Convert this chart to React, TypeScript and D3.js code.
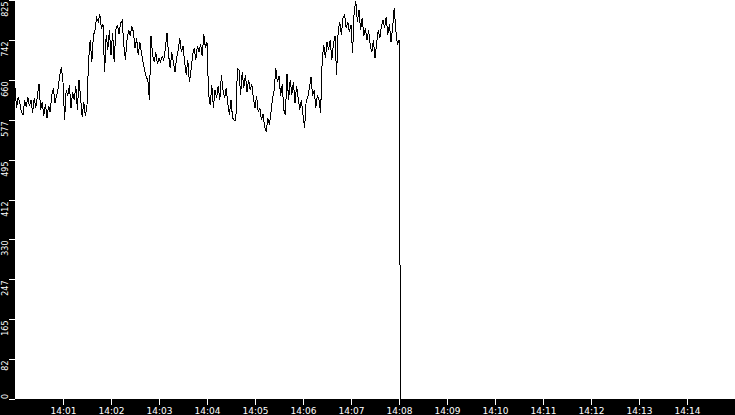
import React, { useEffect, useRef } from 'react';
import * as d3 from 'd3';

// samples taken every 2 seconds starting at 14:00:00
const startTime = new Date(2000, 0, 1, 14, 0, 0);
const endTime = new Date(2000, 0, 1, 14, 15, 0);
const sampleSeconds = 2;

const values: number[] = [
  643, 602, 624, 612, 593, 587, 618, 604, 624, 606,
  618, 591, 622, 602, 627, 651, 598, 614, 585, 610,
  581, 606, 593, 629, 643, 612, 627, 643, 670, 686,
  655, 577, 639, 627, 649, 602, 635, 618, 647, 598,
  660, 622, 583, 614, 585, 608, 701, 742, 697, 751,
  763, 788, 780, 796, 767, 775, 676, 753, 722, 763,
  711, 757, 697, 763, 773, 755, 777, 782, 732, 701,
  742, 763, 751, 771, 759, 726, 746, 711, 738, 717,
  697, 680, 666, 660, 618, 751, 711, 697, 717, 693,
  705, 697, 709, 701, 726, 757, 711, 684, 717, 697,
  676, 705, 722, 746, 717, 730, 697, 670, 701, 655,
  680, 711, 726, 701, 730, 717, 734, 709, 755, 726,
  738, 629, 608, 649, 602, 639, 622, 647, 618, 670,
  639, 622, 643, 610, 587, 618, 581, 577, 575, 684,
  680, 629, 676, 643, 670, 635, 660, 639, 651, 622,
  602, 627, 593, 602, 577, 589, 564, 552, 581, 567,
  593, 622, 639, 684, 655, 668, 627, 651, 598, 587,
  672, 618, 660, 629, 655, 612, 647, 622, 598, 618,
  587, 560, 618, 624, 643, 666, 627, 639, 602, 629,
  618, 591, 701, 732, 705, 738, 722, 742, 701, 734,
  751, 670, 763, 780, 753, 788, 794, 767, 780, 759,
  773, 715, 804, 822, 780, 804, 763, 788, 751, 767,
  742, 763, 732, 717, 742, 705, 734, 763, 746, 771,
  784, 767, 790, 753, 775, 738, 767, 808, 763, 732,
  742, 0,
];

const yMax = 825;
const yTicks = [0, 82.5, 165, 247.5, 330, 412.5, 495, 577.5, 660, 742.5, 825];
const yTickLabels = ['0', '82', '165', '247', '330', '412', '495', '577', '660', '742', '825'];
const xTickMinutes = [1, 2, 3, 4, 5, 6, 7, 8, 9, 10, 11, 12, 13, 14];

const App: React.FC = () => {
  const svgRef = useRef<SVGSVGElement>(null);

  useEffect(() => {
    if (!svgRef.current) return;

    const width = 735;
    const height = 415;
    const left = 15;
    const bottom = 399;

    const svg = d3.select(svgRef.current);
    svg.selectAll('*').remove();

    const x = d3.scaleTime().domain([startTime, endTime]).range([left, width]);
    const y = d3.scaleLinear().domain([0, yMax]).range([bottom, 0]);

    // plot background + black axis bands
    svg.append('rect').attr('width', width).attr('height', height).attr('fill', 'white');
    svg.append('rect').attr('x', 0).attr('y', 0).attr('width', left).attr('height', height).attr('fill', 'black');
    svg.append('rect').attr('x', 0).attr('y', bottom).attr('width', width).attr('height', height - bottom).attr('fill', 'black');

    const points = values.map((v, i) => ({
      t: new Date(startTime.getTime() + i * sampleSeconds * 1000),
      v,
    }));

    const line = d3.line<{ t: Date; v: number }>()
      .x(d => x(d.t))
      .y(d => y(d.v));

    svg.append('path')
      .datum(points)
      .attr('d', line)
      .attr('fill', 'none')
      .attr('stroke', 'black')
      .attr('stroke-width', 1)
      .attr('shape-rendering', 'crispEdges');

    // y axis
    const yg = svg.append('g');
    yTicks.forEach((t, i) => {
      const ty = Math.round(y(t)) + 0.5;
      yg.append('line')
        .attr('x1', 9).attr('x2', left)
        .attr('y1', ty).attr('y2', ty)
        .attr('stroke', 'white')
        .attr('shape-rendering', 'crispEdges');
      const isZero = t === 0;
      yg.append('text')
        .attr('transform', `translate(7.5,${isZero ? bottom : ty + 1}) rotate(-90)`)
        .attr('text-anchor', isZero ? 'start' : 'end')
        .attr('fill', 'white')
        .attr('font-family', 'DejaVu Sans')
        .attr('font-size', 8)
        .text(yTickLabels[i]);
    });

    // x axis
    const xg = svg.append('g');
    xTickMinutes.forEach(m => {
      const t = new Date(startTime.getTime() + m * 60000);
      const tx = Math.round(x(t)) + 0.5;
      xg.append('line')
        .attr('x1', tx).attr('x2', tx)
        .attr('y1', bottom).attr('y2', bottom + 6)
        .attr('stroke', 'white')
        .attr('shape-rendering', 'crispEdges');
      xg.append('text')
        .attr('x', tx)
        .attr('y', 414)
        .attr('text-anchor', 'middle')
        .attr('fill', 'white')
        .attr('font-family', 'DejaVu Sans')
        .attr('font-size', 9)
        .text(d3.timeFormat('%H:%M')(t));
    });
  }, []);

  return (
    <svg
      ref={svgRef}
      width={735}
      height={415}
      style={{ position: 'absolute', left: 0, top: 0, display: 'block' }}
    />
  );
};

export default App;
